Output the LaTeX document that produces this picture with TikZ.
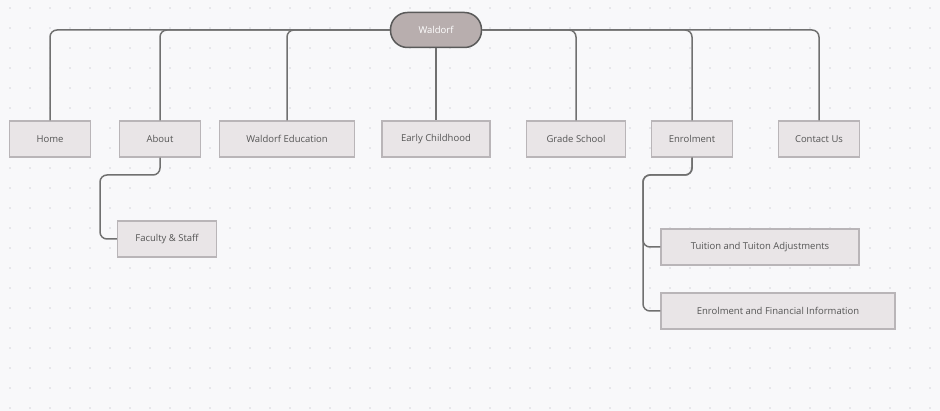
\documentclass[tikz,border=0pt]{standalone}
\usepackage{fontspec}
\setmainfont{Open Sans}
\definecolor{bgcol}{HTML}{F8F8FA}
\definecolor{dotcol}{HTML}{D4D4DA}
\definecolor{boxfill}{HTML}{E9E5E7}
\definecolor{boxline}{HTML}{B9B5B8}
\definecolor{linkcol}{HTML}{707070}
\definecolor{rootfill}{HTML}{B8AEAE}
\definecolor{txtcol}{HTML}{555555}
\tikzset{pg/.style = {rectangle, draw=boxline, fill=boxfill, line width=1.2pt, minimum height=36pt,
                       inner sep=0pt, text=txtcol, font=\fontsize{9.5}{11}\selectfont},
         root/.style = {rectangle, rounded corners=17pt, draw=linkcol!80!black, fill=rootfill, line width=1.5pt,
                       minimum width=91pt, minimum height=35pt, text=white, font=\fontsize{9.5}{11}\selectfont},
         link/.style = {draw=linkcol, line width=1.5pt, rounded corners=7pt}}
\begin{document}
\begin{tikzpicture}[x=1pt, y=-1pt]
    \fill[bgcol] (0,0) rectangle (940,411);
    \useasboundingbox (0,0) rectangle (940,411);
    \foreach \i in {0,...,46} \foreach \j in {0,...,20}
      \fill[dotcol] (\i*20+10, \j*20+8) circle (0.8pt);
    \node[root] (w) at (436,30) {Waldorf};
    \node[pg, minimum width=81pt]  (home) at (50,139)  {Home};
    \node[pg, minimum width=81pt]  (abt)  at (160,139) {About};
    \node[pg, minimum width=135pt] (edu)  at (287,139) {Waldorf Education};
    \node[pg, minimum width=108pt] (ec)   at (436,139) {Early Childhood};
    \node[pg, minimum width=99pt]  (gs)   at (576,139) {Grade School};
    \node[pg, minimum width=81pt]  (enr)  at (692,139) {Enrolment};
    \node[pg, minimum width=81pt]  (cu)   at (819,139) {Contact Us};
    \node[pg, minimum width=99pt]  (fac)  at (167,239) {Faculty \& Staff};
    \node[pg, minimum width=198pt] (tui)  at (760,247) {Tuition and Tuiton Adjustments};
    \node[pg, minimum width=234pt] (efi)  at (778,311) {Enrolment and Financial Information};
    % root to top level
    \draw[link] (w.west) -| (home.north);
    \draw[link] (w.west) -| (abt.north);
    \draw[link] (w.west) -| (edu.north);
    \draw[link] (w.south) -- (ec.north);
    \draw[link] (w.east) -| (gs.north);
    \draw[link] (w.east) -| (enr.north);
    \draw[link] (w.east) -| (cu.north);
    % sub pages
    \draw[link] (abt.south) |- (100,175) |- (fac.west);
    \draw[link] (enr.south) |- (643,175) |- (tui.west);
    \draw[link] (enr.south) |- (643,175) |- (efi.west);
\end{tikzpicture}
\end{document}
